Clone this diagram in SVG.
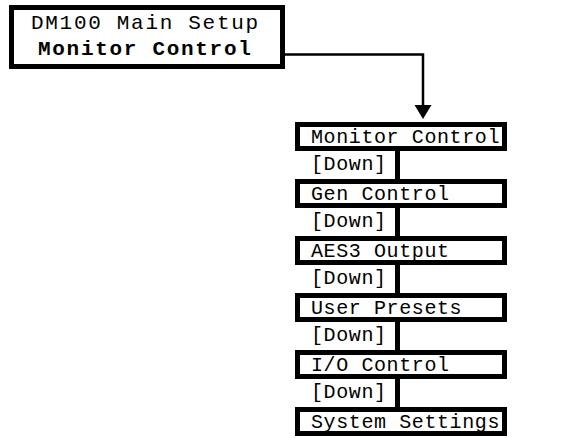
<svg xmlns="http://www.w3.org/2000/svg" width="563" height="438" viewBox="0 0 563 438">
<style>
.box{fill:#fff;stroke:#000;stroke-width:5}
.t{font-family:"Liberation Mono","Courier New",monospace;font-size:20px;letter-spacing:0.6px;fill:#000}
.top{font-size:21px;letter-spacing:1.7px}
.b{font-weight:bold}
.bar{fill:#000}
</style>
<rect width="563" height="438" fill="#fff"/>
<g id="connectors">
<path d="M262,54.5 H423 V106" fill="none" stroke="#000" stroke-width="2.5"/>
<polygon points="414.5,105 431.5,105 423,119" fill="#000"/>
<rect class="bar" x="395" y="151" width="5" height="28"/>
<rect class="bar" x="395" y="208" width="5" height="28"/>
<rect class="bar" x="395" y="265" width="5" height="28"/>
<rect class="bar" x="395" y="322" width="5" height="28"/>
<rect class="bar" x="395" y="379" width="5" height="28"/>
</g>
<g id="main">
<rect class="box" x="11.5" y="7.5" width="271" height="59"/>
<text class="t top" x="31" y="29">DM100 Main Setup</text>
<text class="t top b" x="38" y="55">Monitor Control</text>
</g>
<g id="n1"><rect class="box" x="297.5" y="124.5" width="207" height="24"/><text class="t" x="311" y="143">Monitor Control</text></g>
<g id="d1"><text class="t" x="311" y="170">[Down]</text></g>
<g id="n2"><rect class="box" x="297.5" y="181.5" width="207" height="24"/><text class="t" x="311" y="200">Gen Control</text></g>
<g id="d2"><text class="t" x="311" y="227">[Down]</text></g>
<g id="n3"><rect class="box" x="297.5" y="238.5" width="207" height="24"/><text class="t" x="311" y="257">AES3 Output</text></g>
<g id="d3"><text class="t" x="311" y="284">[Down]</text></g>
<g id="n4"><rect class="box" x="297.5" y="295.5" width="207" height="24"/><text class="t" x="311" y="314">User Presets</text></g>
<g id="d4"><text class="t" x="311" y="341">[Down]</text></g>
<g id="n5"><rect class="box" x="297.5" y="352.5" width="207" height="24"/><text class="t" x="311" y="371">I/O Control</text></g>
<g id="d5"><text class="t" x="311" y="398">[Down]</text></g>
<g id="n6"><rect class="box" x="297.5" y="409.5" width="207" height="24"/><text class="t" x="311" y="428">System Settings</text></g>
</svg>
